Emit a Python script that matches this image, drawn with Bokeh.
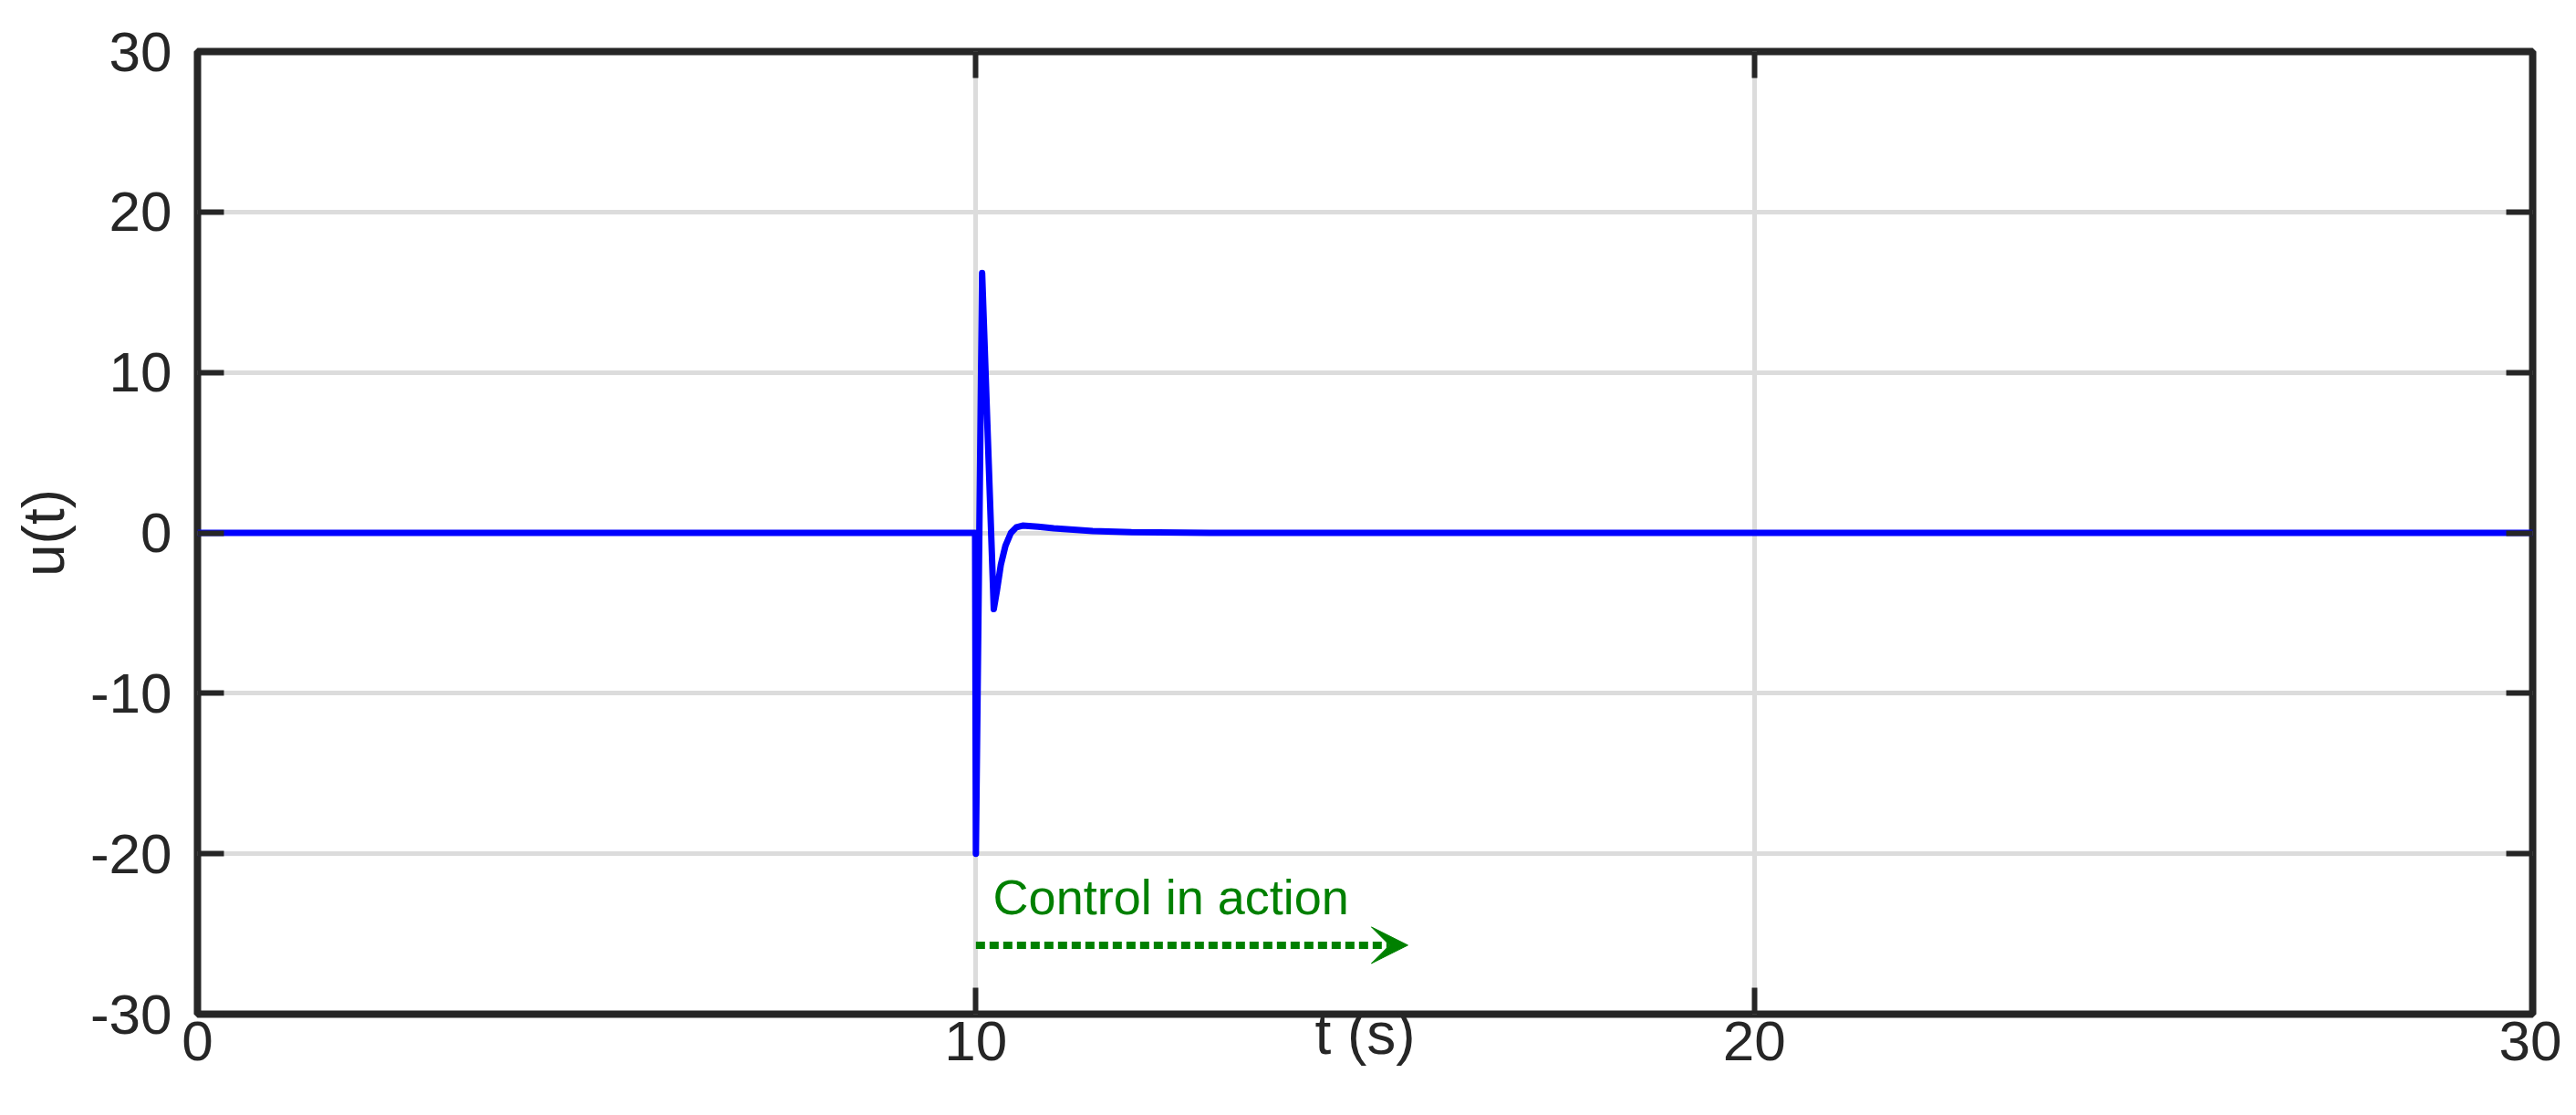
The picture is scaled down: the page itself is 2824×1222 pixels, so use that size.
from bokeh.plotting import figure
from bokeh.models import (Range1d, FixedTicker, LinearAxis, Arrow, VeeHead,
                          Label, CustomJSTickFormatter)
from bokeh.embed import file_html
from bokeh.resources import INLINE

# ---- data ----
t_values = [0.0, 9.99, 10.0, 10.08, 10.23, 10.27, 10.32, 10.38, 10.45, 10.52,
            10.6, 10.8, 11.0, 11.5, 12.0, 13.0, 30.0]
u_values = [0.0, 0.0, -20.0, 16.2, -4.75, -3.6, -2.0, -0.8, 0.0, 0.35,
            0.45, 0.38, 0.28, 0.12, 0.04, 0.0, 0.0]

x_ticks = [0, 10, 20, 30]
y_ticks = [-30, -20, -10, 0, 10, 20, 30]

annotation_text = "Control in action"
annotation_t = 10.22
annotation_u = -22.7
arrow_t_start = 10.0
arrow_t_end = 15.55
arrow_u = -25.7

x_label = "t (s)"
y_label = "u(t)"

# ---- styles ----
FONT = "Liberation Sans"
DARK = "#262626"
GRID = "#dcdcdc"
GREEN = "#008000"

p = figure(width=2808, height=1206,
           x_range=Range1d(0, 30), y_range=Range1d(-30, 30),
           output_backend="svg", toolbar_location=None,
           min_border_left=216, min_border_right=32,
           min_border_top=56, min_border_bottom=95)

p.background_fill_color = "white"
p.border_fill_color = "white"
p.outline_line_color = DARK
p.outline_line_width = 8

plain = CustomJSTickFormatter(code="return String(tick);")

for ax, ticks in ((p.xaxis[0], x_ticks), (p.yaxis[0], y_ticks)):
    ax.ticker = FixedTicker(ticks=ticks)
    ax.formatter = plain
    ax.axis_line_color = None
    ax.major_tick_in = 29
    ax.major_tick_out = 0
    ax.major_tick_line_color = DARK
    ax.major_tick_line_width = 6
    ax.minor_tick_line_color = None
    ax.major_label_text_font = FONT
    ax.major_label_text_font_size = "62px"
    ax.major_label_text_color = DARK
    ax.axis_label_text_font = FONT
    ax.axis_label_text_font_size = "64px"
    ax.axis_label_text_font_style = "normal"
    ax.axis_label_text_color = DARK

p.xaxis.axis_label = x_label
p.xaxis.major_label_standoff = 8
p.xaxis.axis_label_standoff = -68
p.yaxis.axis_label = y_label
p.yaxis.major_label_standoff = 28
p.yaxis.axis_label_standoff = 12

for loc, ticks in (("above", x_ticks), ("right", y_ticks)):
    ax = LinearAxis(ticker=FixedTicker(ticks=ticks),
                    formatter=CustomJSTickFormatter(code="return ''"))
    ax.axis_line_color = None
    ax.major_tick_in = 29
    ax.major_tick_out = 0
    ax.major_tick_line_color = DARK
    ax.major_tick_line_width = 6
    ax.minor_tick_line_color = None
    ax.major_label_text_font_size = "0px"
    ax.major_label_standoff = 0
    p.add_layout(ax, loc)

p.xgrid.ticker = FixedTicker(ticks=x_ticks)
p.ygrid.ticker = FixedTicker(ticks=y_ticks)
for g in (p.xgrid[0], p.ygrid[0]):
    g.grid_line_color = GRID
    g.grid_line_width = 5

p.line(t_values, u_values, line_color="#0000FF", line_width=7,
       line_join="round")

p.add_layout(Arrow(x_start=arrow_t_start, y_start=arrow_u,
                   x_end=arrow_t_end, y_end=arrow_u,
                   line_color=GREEN, line_width=8, line_dash="10 5",
                   end=VeeHead(size=40, fill_color=GREEN,
                               line_color=GREEN, line_width=1)))

p.add_layout(Label(x=annotation_t, y=annotation_u, text=annotation_text,
                   text_font=FONT, text_font_size="54px",
                   text_color=GREEN, text_baseline="alphabetic"))

open("out.html", "w").write(file_html(p, INLINE))
